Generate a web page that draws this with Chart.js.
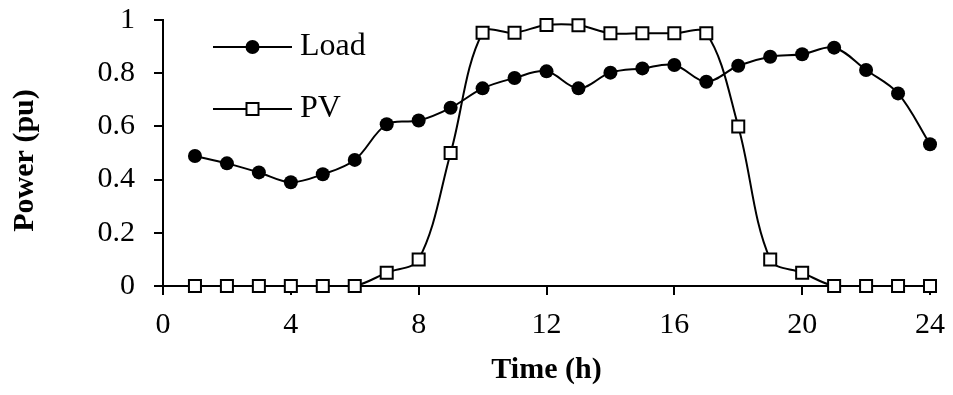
<!DOCTYPE html>
<html>
<head>
<meta charset="utf-8">
<script src="https://cdn.jsdelivr.net/npm/chart.js@4.4.0/dist/chart.umd.min.js"></script>
<style>
  html, body { margin: 0; padding: 0; background: #fff; }
  #wrap { width: 953px; height: 395px; }
</style>
</head>
<body>
<div id="wrap"><canvas id="powerChart"></canvas></div>
<script>
// hours of the day
var hours = [1, 2, 3, 4, 5, 6, 7, 8, 9, 10, 11, 12, 13, 14, 15, 16, 17, 18, 19, 20, 21, 22, 23, 24];
// load profile (pu)
var loadValues = [0.489, 0.461, 0.427, 0.390, 0.420, 0.474, 0.608, 0.622, 0.670, 0.743, 0.782, 0.807,
                  0.743, 0.802, 0.818, 0.831, 0.768, 0.828, 0.862, 0.871, 0.896, 0.812, 0.724, 0.533];
// PV profile (pu)
var pvValues = [0, 0, 0, 0, 0, 0, 0.05, 0.10, 0.50, 0.952, 0.952, 0.981,
                0.980, 0.950, 0.950, 0.950, 0.950, 0.60, 0.10, 0.05, 0, 0, 0, 0];
var xTicks = [0, 4, 8, 12, 16, 20, 24];
var yTicks = [0, 0.2, 0.4, 0.6, 0.8, 1];
var legendNames = ['Load', 'PV'];

var serif = '"Liberation Serif", "Times New Roman", serif';

function toPoints(vals) {
    return hours.map(function (h, i) { return { x: h, y: vals[i] }; });
}

// legend drawn inside the plot, line + marker + text like the original
var insideLegend = {
    id: 'insideLegend',
    afterDraw: function (chart) {
        var ctx = chart.ctx;
        var area = chart.chartArea;
        var x0 = area.left + 50, x1 = area.left + 129, xm = (x0 + x1) / 2;
        var rows = [area.top + 27, area.top + 89];
        ctx.save();
        for (var i = 0; i < 2; i++) {
            var y = rows[i];
            ctx.strokeStyle = '#000';
            ctx.lineWidth = 2;
            ctx.beginPath();
            ctx.moveTo(x0, y);
            ctx.lineTo(x1, y);
            ctx.stroke();
            if (i == 0) {
                ctx.fillStyle = '#000';
                ctx.beginPath();
                ctx.arc(xm, y, 7, 0, Math.PI * 2);
                ctx.fill();
            } else {
                ctx.fillStyle = '#fff';
                ctx.fillRect(xm - 6, y - 6, 12, 12);
                ctx.strokeRect(xm - 6, y - 6, 12, 12);
            }
            ctx.fillStyle = '#000';
            ctx.font = '32px ' + serif;
            ctx.textBaseline = 'middle';
            ctx.textAlign = 'left';
            ctx.fillText(legendNames[i], x1 + 8, y);
        }
        ctx.restore();
    }
};

const ctx = document.getElementById('powerChart');
new Chart(ctx, {
    type: 'line',
    data: {
        datasets: [{
            label: legendNames[0],
            data: toPoints(loadValues),
            borderColor: '#000',
            borderWidth: 2,
            backgroundColor: '#000',
            pointStyle: 'circle',
            pointRadius: 7,
            pointBackgroundColor: '#000',
            pointBorderColor: '#000',
            pointBorderWidth: 0,
            tension: 0.35,
            clip: false
        }, {
            label: legendNames[1],
            data: toPoints(pvValues),
            borderColor: '#000',
            borderWidth: 2,
            backgroundColor: '#fff',
            pointStyle: 'rect',
            pointRadius: 8.5,
            pointBackgroundColor: '#fff',
            pointBorderColor: '#000',
            pointBorderWidth: 2,
            tension: 0.35,
            clip: false
        }]
    },
    options: {
        responsive: true,
        maintainAspectRatio: false,
        animation: false,
        layout: { padding: { left: 0, right: 23, top: 20, bottom: 0 } },
        plugins: {
            legend: { display: false },
            tooltip: { enabled: false }
        },
        scales: {
            x: {
                type: 'linear',
                min: 0,
                max: 24,
                afterBuildTicks: function (scale) {
                    scale.ticks = xTicks.map(function (v) { return { value: v }; });
                },
                afterFit: function (scale) {
                    scale.height = 109;
                    scale.paddingLeft = 0;
                    scale.paddingRight = 0;
                },
                border: { color: '#000', width: 2 },
                grid: { drawOnChartArea: false, drawTicks: true, tickLength: 9, color: '#000', lineWidth: 2 },
                ticks: { color: '#000', padding: 12, font: { family: serif, size: 30 }, maxRotation: 0 },
                title: { display: true, text: 'Time (h)', color: '#000', padding: { top: 0, bottom: 7 },
                         font: { family: serif, size: 30, weight: 'bold' } }
            },
            y: {
                min: 0,
                max: 1,
                afterBuildTicks: function (scale) {
                    scale.ticks = yTicks.map(function (v) { return { value: v }; });
                },
                afterFit: function (scale) {
                    scale.width = 163;
                    scale.paddingTop = 0;
                    scale.paddingBottom = 0;
                },
                border: { color: '#000', width: 2 },
                grid: { drawOnChartArea: false, drawTicks: true, tickLength: 9, color: '#000', lineWidth: 2 },
                ticks: {
                    color: '#000', padding: 19, font: { family: serif, size: 30 },
                    callback: function (v) { return String(Math.round(v * 10) / 10); }
                },
                title: { display: true, text: 'Power (pu)  ', color: '#000', padding: { top: 7, bottom: 0 },
                         font: { family: serif, size: 30, weight: 'bold' } }
            }
        }
    },
    plugins: [insideLegend]
});
</script>
</body>
</html>
